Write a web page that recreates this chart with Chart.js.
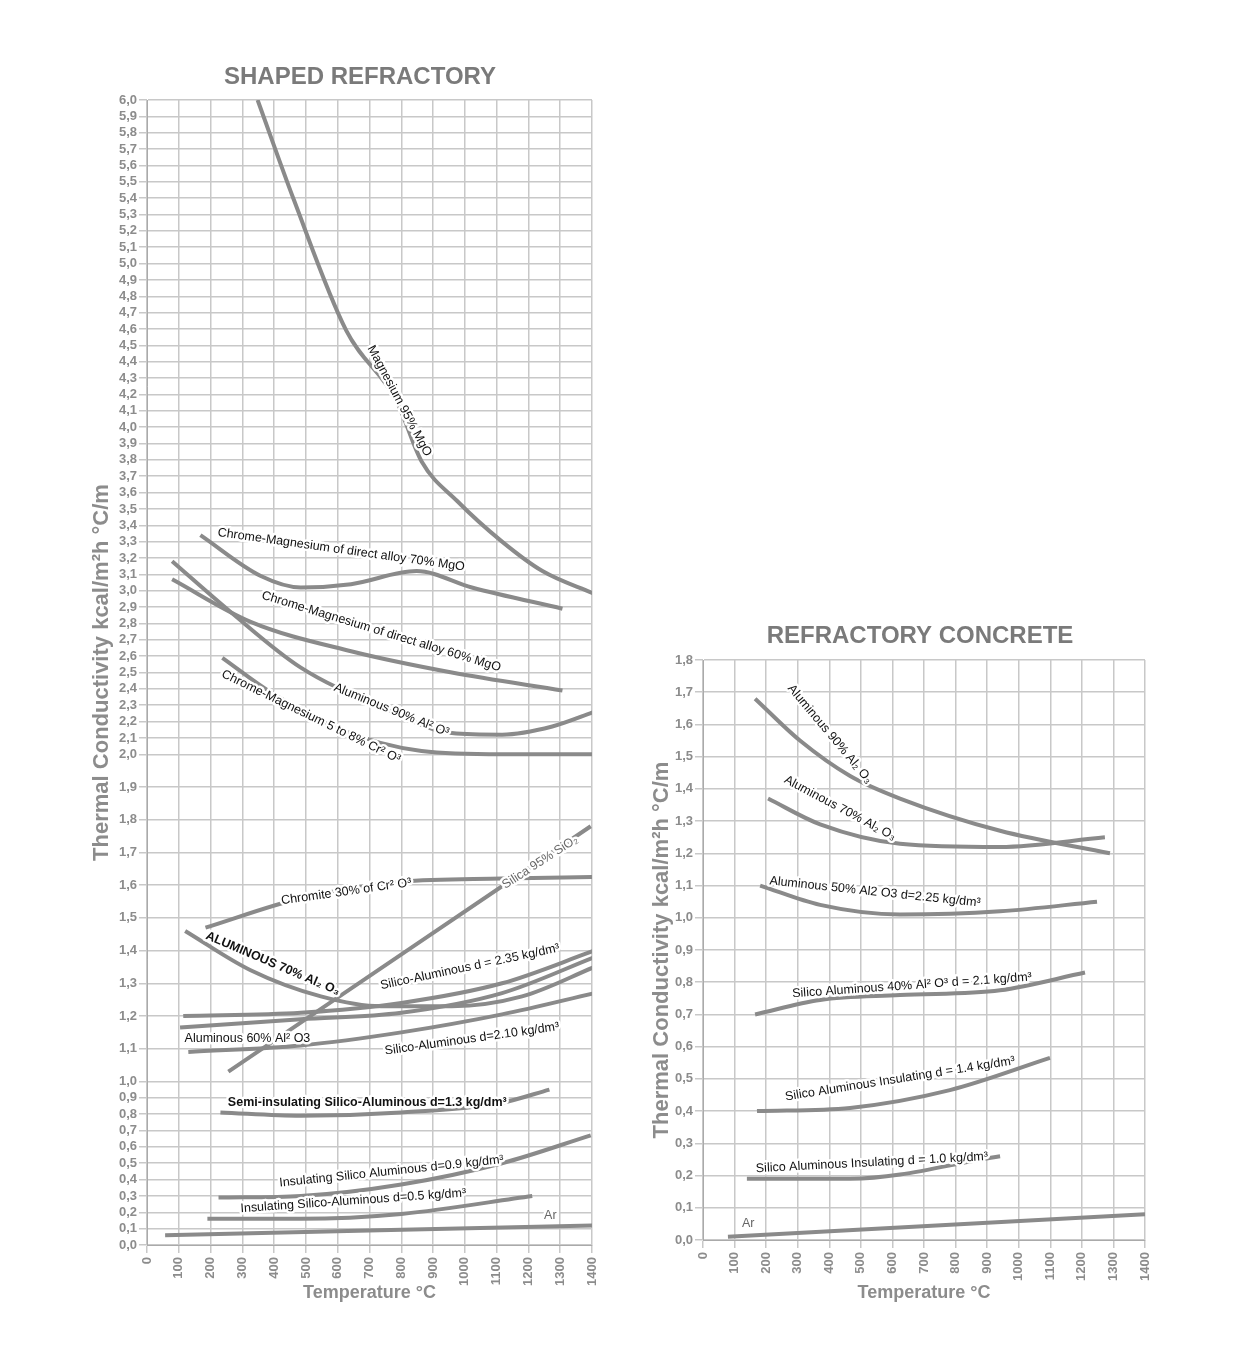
<!DOCTYPE html>
<html><head><meta charset="utf-8">
<script src="https://cdn.jsdelivr.net/npm/chart.js@4.4.1/dist/chart.umd.min.js"></script>
<style>body{margin:0;background:#fff;width:1240px;height:1362px;position:relative;overflow:hidden}
</style></head><body>
<div style="position:absolute;left:0;top:0;width:620px;height:1362px"><canvas id="c1"></canvas></div>
<div style="position:absolute;left:620px;top:0;width:620px;height:1362px"><canvas id="c2"></canvas></div>
<script>
// ---------- DATA: Shaped refractory ----------
const tempTicks = [0,100,200,300,400,500,600,700,800,900,1000,1100,1200,1300,1400];
const magnesiumMgO = [[348,6.0],[462,5.39],[627,4.59],[785,4.16],[864,3.79],[975,3.55],[1117,3.30],[1244,3.12],[1408,2.98]];
const chromeMag70 = [[168,3.34],[358,3.09],[484,3.02],[642,3.04],[848,3.12],[1022,3.02],[1307,2.89]];
const chromeMag60 = [[79,3.07],[326,2.81],[642,2.63],[959,2.50],[1307,2.39]];
const aluminous90L = [[79,3.18],[263,2.87],[484,2.53],[737,2.29],[959,2.13],[1117,2.12],[1275,2.17],[1408,2.26]];
const chromeMag5to8 = [[237,2.59],[389,2.38],[611,2.15],[864,2.02],[1117,2.0],[1408,2.0]];
const silica95 = [[256,1.03],[1396,1.78]];
const chromite30 = [[184,1.47],[484,1.56],[800,1.61],[1117,1.62],[1408,1.625]];
const aluminous70L = [[120,1.46],[326,1.34],[547,1.26],[737,1.23],[959,1.23],[1180,1.26],[1408,1.35]];
const silicoAl235 = [[114,1.20],[484,1.21],[800,1.24],[1117,1.30],[1408,1.40]];
const aluminous60 = [[104,1.165],[484,1.19],[800,1.21],[1117,1.27],[1408,1.38]];
const silicoAl210 = [[130,1.09],[484,1.11],[800,1.15],[1117,1.205],[1408,1.27]];
const semiInsul13 = [[231,0.81],[484,0.79],[800,0.81],[1117,0.87],[1266,0.95]];
const insul09 = [[225,0.29],[484,0.30],[800,0.37],[1117,0.50],[1396,0.67]];
const insul05 = [[190,0.16],[484,0.16],[800,0.19],[1212,0.30]];
const arLeft = [[57,0.06],[1408,0.12]];
const leftTickValues = [];
for (let i=0;i<=60;i++){ leftTickValues.push(i/10); }
// labels: text, temp, value, angle, bold
const leftLabels = [
 ["Magnesium 95% MgO",794,4.16,62,false],
 ["Chrome-Magnesium of direct alloy 70% MgO",611,3.25,8,false],
 ["Chrome-Magnesium of direct alloy 60% MgO",737,2.75,17,false],
 ["Aluminous 90% Al² O³",769,2.27,22,false],
 ["Chrome-Magnesium 5 to 8% Cr² O³",516,2.23,26,false],
 ["Silica 95% SiO₂",1237,1.67,-33,false,"#666"],
 ["Chromite 30% of Cr² O³",627,1.58,-8,false],
 ["ALUMINOUS 70% Al₂ O₃",396,1.36,23,true],
 ["Silico-Aluminous d = 2.35 kg/dm³",1016,1.35,-12,false],
 ["Aluminous 60% Al² O3",316,1.13,0,false],
 ["Silico-Aluminous d=2.10 kg/dm³",1022,1.13,-8,false],
 ["Semi-insulating Silico-Aluminous d=1.3 kg/dm³",693,0.87,0,true],
 ["Insulating Silico Aluminous d=0.9 kg/dm³",769,0.45,-6,false],
 ["Insulating Silico-Aluminous d=0.5 kg/dm³",649,0.27,-4,false],
 ["Ar",1269,0.18,0,false,"#666"]
];
// ---------- DATA: Refractory concrete ----------
const aluminous90R = [[165,1.68],[307,1.55],[466,1.44],[624,1.37],[941,1.27],[1289,1.20]];
const aluminous70R = [[206,1.37],[371,1.29],[624,1.23],[941,1.22],[1273,1.25]];
const aluminous50R = [[181,1.10],[371,1.04],[624,1.01],[941,1.02],[1248,1.05]];
const silicoAl40R = [[165,0.70],[371,0.745],[624,0.76],[941,0.775],[1210,0.83]];
const insul14R = [[171,0.40],[466,0.41],[782,0.465],[1099,0.565]];
const insul10R = [[139,0.19],[466,0.19],[941,0.26]];
const arRight = [[79,0.01],[1400,0.08]];
const rightLabels = [
 ["Aluminous 90% Al₂ O₃",402,1.57,50,false],
 ["Aluminous 70% Al₂ O₃",434,1.34,28,false],
 ["Aluminous 50% Al2 O3 d=2.25 kg/dm³",545,1.08,6,false],
 ["Silico Aluminous 40% Al² O³ d = 2.1 kg/dm³",662,0.79,-4,false],
 ["Silico Aluminous Insulating d = 1.4 kg/dm³",624,0.50,-9,false],
 ["Silico Aluminous Insulating d = 1.0 kg/dm³",535,0.24,-3,false],
 ["Ar",143,0.05,0,false,"#666"]
];

// piecewise scale for left chart
const T = v => v<=1 ? v*10 : (v<=2 ? 10+(v-1)*20 : 30+(v-2)*10);
const Tinv = u => u<=10 ? u/10 : (u<=30 ? 1+(u-10)/20 : 2+(u-30)/10);
const fmt = v => v.toFixed(1).replace('.',',');
const GREY='#8a8a8a', GRID='#c8c8c8', TXT='#8c8c8c';
const FONT='"Liberation Sans", Arial, sans-serif';

function ds(arr, tf){ return {data:arr.map(p=>({x:p[0],y:tf(p[1])})),borderColor:GREY,borderWidth:4,pointRadius:0,tension:0.4,cubicInterpolationMode:'monotone',fill:false}; }

function labelPlugin(labels, tf, title, tx, ty){
 return {id:'lbl',afterDatasetsDraw(c){
  const ctx=c.ctx,xs=c.scales.x,ys=c.scales.y;
  labels.forEach(l=>{
   const px=xs.getPixelForValue(l[1]),py=ys.getPixelForValue(tf(l[2]));
   ctx.save();ctx.translate(px,py);ctx.rotate(l[3]*Math.PI/180);
   ctx.font=(l[4]?'bold ':'')+'12.5px '+FONT;ctx.textAlign='center';ctx.textBaseline='middle';
   ctx.lineWidth=5;ctx.strokeStyle='#fff';ctx.lineJoin='round';ctx.strokeText(l[0],0,0);
   ctx.fillStyle=l[5]||'#111';ctx.fillText(l[0],0,0);ctx.restore();
  });
  ctx.save();ctx.font='bold 24px '+FONT;ctx.fillStyle='#7a7a7a';ctx.textAlign='center';ctx.textBaseline='middle';
  ctx.fillText(title,tx,ty);ctx.restore();
 }};
}

function makeChart(id, sets, tf, yOpts, labels, title, tx, ty, pad, yw, xh){
 new Chart(document.getElementById(id),{
  type:'line',
  data:{datasets:sets.map(s=>ds(s,tf))},
  options:{responsive:true,maintainAspectRatio:false,animation:false,
   layout:{padding:pad},
   plugins:{legend:{display:false},tooltip:{enabled:false}},
   scales:{
    x:{type:'linear',min:0,max:1400,
     afterBuildTicks(a){a.ticks=tempTicks.map(v=>({value:v}));},
     afterFit(a){a.height=xh;},
     ticks:{maxRotation:90,minRotation:90,color:TXT,font:{family:FONT,size:13,weight:'bold'},padding:4,callback:v=>String(v)},
     grid:{color:GRID,lineWidth:1.5},border:{color:'#aaa'},
     title:{display:true,text:'Temperature °C',color:TXT,font:{family:FONT,size:18,weight:'bold'},padding:{top:4}}},
    y:Object.assign({type:'linear',afterFit(a){a.width=yw;},
     grid:{color:GRID,lineWidth:1.5},border:{color:'#aaa'},
     title:{display:true,text:'Thermal Conductivity kcal/m²h °C/m',color:TXT,font:{family:FONT,size:22,weight:'bold'},padding:{bottom:4}}},yOpts)
   }},
  plugins:[labelPlugin(labels,tf,title,tx,ty)]
 });
}

makeChart('c1',[magnesiumMgO,chromeMag70,chromeMag60,aluminous90L,chromeMag5to8,silica95,chromite30,aluminous70L,silicoAl235,aluminous60,silicoAl210,semiInsul13,insul09,insul05,arLeft],
 T,{min:0,max:70,
  afterBuildTicks(a){a.ticks=leftTickValues.map(v=>({value:T(v)}));},
  ticks:{color:TXT,font:{family:FONT,size:13,weight:'bold'},padding:2,autoSkip:false,callback:v=>fmt(Tinv(v))}},
 leftLabels,'SHAPED REFRACTORY',360,77,{left:85,right:28,top:100,bottom:54},62,63);

makeChart('c2',[aluminous90R,aluminous70R,aluminous50R,silicoAl40R,insul14R,insul10R,arRight],
 v=>v,{min:0,max:1.8,ticks:{stepSize:0.1,color:TXT,font:{family:FONT,size:13,weight:'bold'},padding:2,autoSkip:false,callback:v=>fmt(v)}},
 rightLabels,'REFRACTORY CONCRETE',300,636,{left:25,right:95,top:660,bottom:54},58,68);
</script></body></html>
